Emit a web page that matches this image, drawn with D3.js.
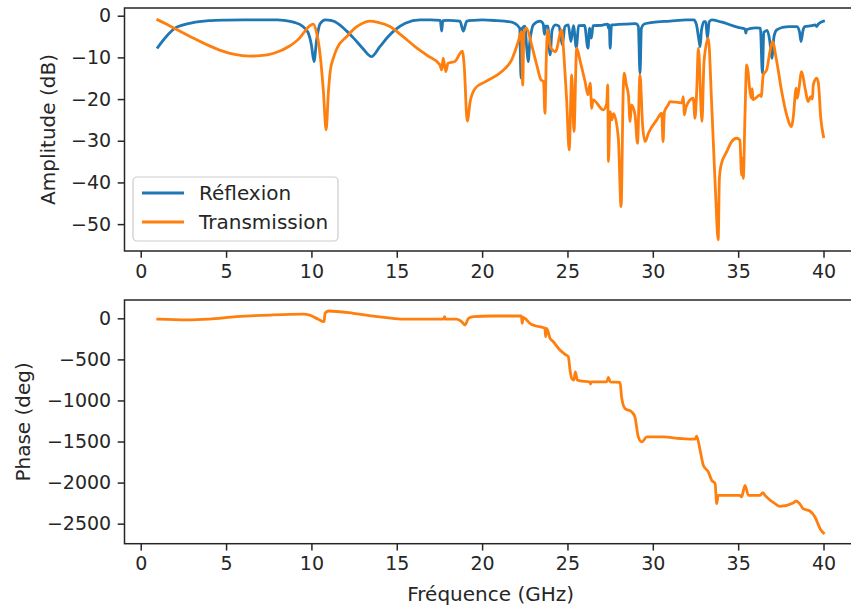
<!DOCTYPE html>
<html>
<head>
<meta charset="utf-8">
<script src="https://cdn.jsdelivr.net/npm/d3@7/dist/d3.min.js"></script>
<style>
  html, body { margin: 0; padding: 0; background: #ffffff; }
  svg { display: block; }
  text { font-family: "DejaVu Sans", sans-serif; fill: #262626; }
</style>
</head>
<body>
<svg id="chart" width="851" height="609"></svg>
<script>
// Reflexion amplitude (dB) vs frequency (GHz)
const freqR = [1.0,1.5,2.0,2.5,3.0,4.0,5.0,6.0,7.0,8.0,8.5,9.0,9.5,9.8,10.0,10.15,10.3,10.5,10.8,11.2,11.6,12.07,12.5,13.0,13.53,14.0,14.5,14.9,15.5,16.36,17.0,17.55,17.63,17.7,18.0,18.7,18.9,19.1,19.5,20.0,20.9,21.5,21.9,22.2,22.28,22.35,22.5,22.62,22.7,22.8,22.9,23.0,23.4,23.58,23.65,23.72,23.85,23.98,24.1,24.3,24.5,24.7,24.85,25.05,25.2,25.35,25.52,25.65,26.0,26.2,26.3,26.4,26.5,27.0,27.35,27.4,27.45,27.5,27.58,28.0,28.5,29.0,29.15,29.25,29.33,29.5,30.0,31.0,32.0,32.4,32.55,32.7,32.77,32.85,33.0,33.1,33.2,33.3,33.45,34.0,35.0,35.4,35.45,35.5,36.0,36.3,36.42,36.5,36.7,36.85,36.97,37.1,37.26,37.6,38.0,38.45,38.6,38.68,38.8,38.9,39.3,39.5,39.6,39.7,40.0];
const reflexion = [-7.6,-5.0,-3.0,-2.2,-1.7,-1.2,-1.05,-1.0,-1.0,-1.0,-1.2,-1.6,-2.6,-4.0,-7.0,-11.0,-6.0,-2.0,-1.0,-1.2,-2.0,-3.7,-5.5,-7.8,-9.8,-7.5,-5.0,-3.4,-1.8,-1.0,-1.0,-1.1,-3.7,-1.2,-1.1,-1.3,-3.7,-1.3,-1.1,-1.0,-1.2,-1.4,-1.8,-3.0,-15.0,-3.0,-2.5,-8.0,-11.0,-6.0,-3.5,-2.2,-1.3,-2.0,-4.5,-2.5,-2.5,-9.4,-3.5,-2.2,-2.5,-7.0,-2.6,-2.2,-6.2,-2.4,-7.6,-2.4,-2.3,-7.8,-3.0,-5.4,-2.4,-2.3,-2.0,-3.0,-2.2,-7.8,-2.2,-2.1,-2.0,-1.9,-2.5,-13.8,-3.0,-2.0,-1.6,-1.3,-1.0,-1.0,-2.0,-5.8,-7.4,-3.5,-1.4,-1.4,-5.4,-1.5,-1.0,-1.5,-2.8,-3.2,-4.2,-3.3,-2.9,-3.0,-13.8,-4.0,-3.5,-6.0,-10.2,-5.0,-3.4,-2.8,-2.6,-2.6,-4.0,-6.2,-3.5,-2.6,-2.4,-2.2,-2.6,-2.0,-1.3];

// Transmission amplitude (dB) vs frequency (GHz)
const freqT = [1.0,1.5,2.05,3.0,3.9,4.8,5.5,6.35,7.0,7.8,8.75,9.2,9.53,9.8,10.1,10.3,10.5,10.7,10.86,11.0,11.1,11.3,11.5,12.07,12.6,13.0,13.4,13.9,14.6,15.3,16.07,16.8,17.53,17.63,17.72,17.87,18.0,18.4,18.84,18.95,19.13,19.3,19.6,20.2,21.15,21.73,22.12,22.3,22.38,22.45,22.6,22.9,23.2,23.45,23.6,23.68,23.76,23.84,24.0,24.3,24.66,24.8,24.95,25.1,25.25,25.38,25.54,25.75,26.03,26.2,26.33,26.42,26.5,27.1,27.3,27.36,27.4,27.5,27.6,27.7,27.98,28.14,28.27,28.33,28.45,28.57,28.67,28.75,28.96,29.1,29.25,29.4,29.55,29.74,30.23,30.52,30.6,30.68,30.9,31.0,31.7,31.79,31.85,31.95,32.37,32.47,32.57,32.67,32.88,33.0,33.25,33.45,33.68,33.83,33.9,34.0,34.33,34.62,34.9,35.1,35.2,35.25,35.3,35.4,35.5,35.58,35.67,35.77,35.82,35.87,36.28,36.35,36.47,36.67,36.86,37.0,37.26,37.55,37.84,38.13,38.22,38.4,38.46,38.55,38.72,38.92,39.1,39.25,39.35,39.4,39.6,39.7,39.84,40.0];
const transmission = [-1.0,-2.0,-3.2,-5.2,-7.0,-8.5,-9.3,-9.7,-9.6,-9.0,-7.2,-5.8,-4.2,-2.8,-2.0,-4.0,-9.0,-18.0,-27.4,-18.0,-13.4,-10.0,-7.8,-5.0,-2.8,-1.8,-1.3,-1.6,-2.6,-4.8,-7.4,-9.6,-11.8,-13.0,-10.2,-13.4,-11.4,-11.0,-8.5,-12.0,-25.3,-20.6,-17.4,-15.8,-13.4,-10.6,-6.2,-3.8,-16.6,-4.0,-3.0,-7.0,-11.8,-15.4,-15.8,-23.4,-10.0,-3.4,-7.5,-8.6,-3.4,-10.0,-20.0,-32.2,-14.2,-27.8,-7.8,-11.0,-15.8,-19.0,-16.2,-22.2,-20.2,-22.6,-21.0,-16.6,-35.0,-23.0,-25.0,-23.5,-29.4,-45.8,-17.4,-13.8,-16.6,-19.0,-25.4,-21.4,-23.8,-30.6,-14.2,-26.2,-30.2,-28.2,-25.0,-23.4,-30.2,-23.0,-21.4,-20.6,-20.9,-19.4,-23.8,-21.8,-19.8,-24.6,-18.2,-7.8,-25.4,-11.0,-5.4,-21.4,-43.0,-53.8,-39.0,-35.8,-32.6,-30.2,-29.4,-29.8,-38.2,-34.2,-39.0,-23.8,-11.8,-13.4,-17.4,-19.8,-17.5,-20.2,-19.0,-19.4,-14.2,-13.0,-8.6,-6.2,-11.0,-18.2,-23.8,-26.6,-24.6,-17.4,-19.8,-17.8,-13.4,-17.4,-20.6,-19.4,-20.0,-16.6,-15.0,-16.2,-24.6,-29.0];

// Transmission phase (deg) vs frequency (GHz)
const freqP = [1.0,2.7,4.0,5.6,7.6,9.5,9.9,10.4,10.74,10.8,11.0,12.45,13.5,14.4,15.4,17.5,17.75,17.8,17.85,18.5,18.8,19.0,19.2,19.5,20.5,22.2,22.3,22.35,22.4,22.5,22.8,23.1,23.6,23.68,23.72,23.78,23.98,24.17,24.56,24.86,25.05,25.15,25.25,25.38,25.46,25.58,25.74,26.3,26.35,26.4,27.3,27.4,27.5,28.08,28.17,28.37,28.76,28.95,29.15,29.35,29.65,30.6,31.6,32.47,32.57,32.77,32.96,33.25,33.45,33.65,33.74,33.83,35.1,35.2,35.4,35.6,36.28,36.44,36.57,37.16,37.45,38.23,38.39,38.6,38.8,39.2,39.5,39.8,40.0];
const phase = [-10,-20,-10,20,40,50,40,-12,-41,60,89,61,30,8,-9,-9,-9,20,-9,-9,-41,-82,0,20,28,28,28,-61,10,0,-61,-90,-115,-122,-224,-122,-244,-285,-387,-439,-468,-630,-732,-752,-651,-752,-761,-773,-800,-773,-773,-720,-773,-780,-956,-1098,-1139,-1200,-1444,-1505,-1444,-1444,-1463,-1472,-1435,-1606,-1789,-1870,-1972,-2012,-2256,-2155,-2155,-2175,-2033,-2155,-2155,-2122,-2155,-2256,-2289,-2249,-2224,-2256,-2317,-2346,-2419,-2561,-2614];

// Tick values
const freqTicks = [0, 5, 10, 15, 20, 25, 30, 35, 40];
const ampTicks = [0, -10, -20, -30, -40, -50];
const phaseTicks = [0, -500, -1000, -1500, -2000, -2500];

const blue = "#1f77b4";
const orange = "#ff7f0e";
const ink = "#262626";
const tickFont = 19;
const labelFont = 20;

const svg = d3.select("#chart");

const left = 124.5, right = 856.8;
const topPanel = { top: 8, bottom: 251 };
const botPanel = { top: 300, bottom: 543.7 };

const x = d3.scaleLinear().domain([-0.95, 41.95]).range([left, right]);
const yAmp = d3.scaleLinear().domain([-56.45, 1.85]).range([topPanel.bottom, topPanel.top]);
const yPh = d3.scaleLinear().domain([-2744, 223]).range([botPanel.bottom, botPanel.top]);

const minus = s => String(s).replace("-", "\u2212");

function drawAxes(g, yScale, yTicks, panel, clipId) {
  g.append("clipPath").attr("id", clipId)
    .append("rect").attr("x", left).attr("y", panel.top)
    .attr("width", right - left).attr("height", panel.bottom - panel.top);

  const xAxis = d3.axisBottom(x).tickValues(freqTicks).tickSize(6.8).tickPadding(6.5)
    .tickFormat(d3.format("d"));
  const gx = g.append("g").attr("transform", `translate(0,${panel.bottom})`).call(xAxis);
  const yAxis = d3.axisLeft(yScale).tickValues(yTicks).tickSize(6.8).tickPadding(6.5)
    .tickFormat(d => minus(d));
  const gy = g.append("g").attr("transform", `translate(${left},0)`).call(yAxis);

  [gx, gy].forEach(a => {
    a.select(".domain").remove();
    a.selectAll(".tick line").attr("stroke", ink).attr("stroke-width", 1.5);
    a.selectAll(".tick text").attr("fill", ink)
      .style("font-family", "'DejaVu Sans', sans-serif").style("font-size", tickFont + "px");
  });
}

function drawFrame(g, panel) {
  g.append("rect").attr("x", left).attr("y", panel.top)
    .attr("width", right - left).attr("height", panel.bottom - panel.top)
    .attr("fill", "none").attr("stroke", ink).attr("stroke-width", 1.5);
}

function drawLine(g, xs, ys, yScale, color, clipId) {
  const pts = xs.map((f, i) => [f, ys[i]]);
  const line = d3.line().x(d => x(d[0])).y(d => yScale(d[1])).curve(d3.curveMonotoneX);
  g.append("path").datum(pts)
    .attr("clip-path", `url(#${clipId})`)
    .attr("fill", "none").attr("stroke", color).attr("stroke-width", 2.8)
    .attr("stroke-linejoin", "round").attr("stroke-linecap", "square")
    .attr("d", line);
}

// Amplitude panel
const gTop = svg.append("g");
drawAxes(gTop, yAmp, ampTicks, topPanel, "clipTop");
drawLine(gTop, freqR, reflexion, yAmp, blue, "clipTop");
drawLine(gTop, freqT, transmission, yAmp, orange, "clipTop");
drawFrame(gTop, topPanel);

// Legend
const leg = gTop.append("g");
leg.append("rect").attr("x", 133).attr("y", 177).attr("width", 205).attr("height", 64)
  .attr("rx", 4).attr("fill", "#ffffff").attr("fill-opacity", 0.8)
  .attr("stroke", "#cccccc").attr("stroke-width", 1.2);
[["Réflexion", blue, 193], ["Transmission", orange, 222]].forEach(([label, c, yy]) => {
  leg.append("line").attr("x1", 142).attr("x2", 184).attr("y1", yy).attr("y2", yy)
    .attr("stroke", c).attr("stroke-width", 2.8);
  leg.append("text").attr("x", 199).attr("y", yy).attr("dy", "0.36em")
    .style("font-size", labelFont + "px").text(label);
});

gTop.append("text")
  .attr("transform", `translate(55,${(topPanel.top + topPanel.bottom) / 2}) rotate(-90)`)
  .attr("text-anchor", "middle").style("font-size", labelFont + "px").text("Amplitude (dB)");

// Phase panel
const gBot = svg.append("g");
drawAxes(gBot, yPh, phaseTicks, botPanel, "clipBot");
drawLine(gBot, freqP, phase, yPh, orange, "clipBot");
drawFrame(gBot, botPanel);

gBot.append("text")
  .attr("transform", `translate(30,${(botPanel.top + botPanel.bottom) / 2}) rotate(-90)`)
  .attr("text-anchor", "middle").style("font-size", labelFont + "px").text("Phase (deg)");

svg.append("text").attr("x", (left + right) / 2).attr("y", 601)
  .attr("text-anchor", "middle").style("font-size", labelFont + "px").text("Fréquence (GHz)");
</script>
</body>
</html>
